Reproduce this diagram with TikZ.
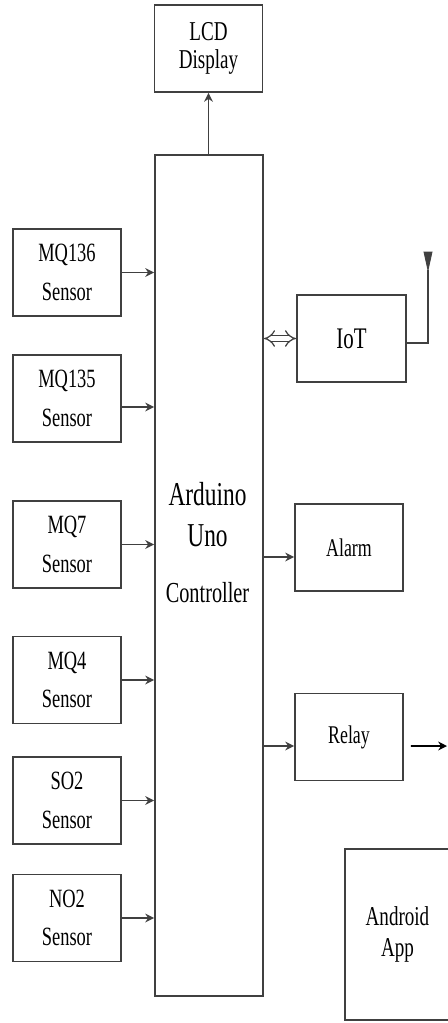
\documentclass[tikz,border=0pt]{standalone}
\usepackage{fontspec}
\setmainfont{Liberation Serif}[FakeStretch=0.7]
\usetikzlibrary{arrows.meta}

\begin{document}
\begin{tikzpicture}[color=black!75,line width=1.1pt,
  box/.style={draw,minimum width=2.16cm,minimum height=1.74cm,align=center,text=black,font=\fontsize{15}{22}\selectfont},
  txt/.style={align=center,text=black},>={Stealth[length=5pt,width=5pt]}]
\useasboundingbox (0,0) rectangle (8.94,-20.46);
% controller and display
\node[box,font=\fontsize{15.5}{15.5}\selectfont] (lcd) at (4.17,-0.97) {LCD\\Display};
\node[box,minimum height=16.82cm] (ctrl) at (4.18,-11.51) {};
\node[txt,font=\fontsize{19}{23}\selectfont] (ctrltxt) at (4.15,-10.85) {Arduino\\Uno\\[9pt]{\fontsize{16.5}{20}\selectfont Controller}};
% sensors
\node[box] (mq136) at (1.34,-5.45) {MQ136\\Sensor};
\node[box] (mq135) at (1.34,-7.97) {MQ135\\Sensor};
\node[box] (mq7) at (1.34,-10.89) {MQ7\\Sensor};
\node[box] (mq4) at (1.34,-13.60) {MQ4\\Sensor};
\node[box] (so2) at (1.34,-16.01) {SO2\\Sensor};
\node[box] (no2) at (1.34,-18.36) {NO2\\Sensor};
% outputs
\node[box,minimum width=2.18cm,font=\fontsize{17}{20}\selectfont] (iot) at (7.03,-6.77) {IoT};
\node[box,font=\fontsize{14.5}{18}\selectfont] (alarm) at (6.98,-10.95) {Alarm};
\node[box,font=\fontsize{14.5}{18}\selectfont] (relay) at (6.98,-14.74) {Relay};
\node[box,minimum width=2.1cm,minimum height=3.42cm,font=\fontsize{15.5}{18}\selectfont] (app) at (7.95,-18.69) {Android\\App};
\coordinate (ant) at (8.56,-5.4);
\coordinate (relayout) at (8.94,-14.92);
\draw[->] (ctrl.north -| lcd) -- (lcd);
\foreach \s in {mq136,mq7,mq4,so2,no2} \draw[->] (\s) -- (\s -| ctrl.west);
\draw[->] ([yshift=-0.17cm]mq135.east) -- ([yshift=-0.17cm]mq135.east -| ctrl.west);
\draw[double=white,double distance=2.6pt,line width=0.7pt,{Implies}-{Implies}] (iot.west -| ctrl.east) -- (iot.west);
\draw[->] ([yshift=-0.19cm]alarm.west -| ctrl.east) -- ([yshift=-0.19cm]alarm.west);
\draw[->] ([yshift=-0.18cm]relay.west -| ctrl.east) -- ([yshift=-0.18cm]relay.west);
\draw[->,color=black,shorten <=0.14cm] ([yshift=-0.18cm]relay.east) -- (relayout);
% antenna
\draw ([yshift=-0.09cm]iot.east) -| (ant);
\draw[fill=black!75,line width=0.5pt] (ant) -- ++(-0.08,0.36) -- ++(0.16,0) -- cycle;
\end{tikzpicture}
\end{document}
